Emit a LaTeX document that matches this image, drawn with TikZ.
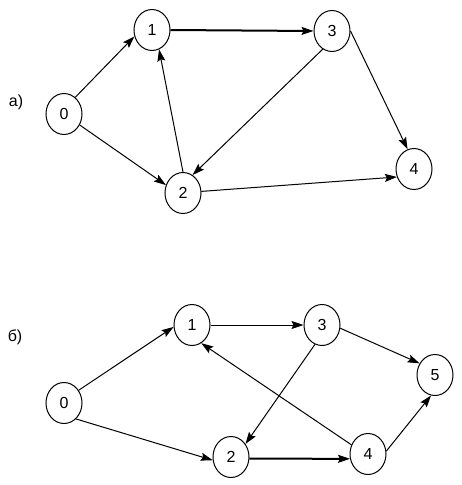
\documentclass[tikz,border=0pt]{standalone}
\usepackage{fontspec}
\setmainfont{Liberation Sans}
\usetikzlibrary{arrows.meta,shapes.geometric}
\begin{document}
\begin{tikzpicture}[x=1pt,y=-1pt,
  vert/.style={ellipse,draw,line width=1pt,minimum width=36pt,minimum height=41pt,inner sep=0pt,font=\fontsize{16}{16}\selectfont},
  lbl/.style={font=\fontsize{16}{16}\selectfont},
  edge/.style={line width=1pt,-{Stealth[length=12pt,width=8pt,inset=2pt]}},
  thick edge/.style={edge,line width=2pt,-{Stealth[length=12pt,width=8pt,inset=2pt,line width=1pt]}}]
\useasboundingbox (0,0) rectangle (462,485);
% a)
\node[lbl] (la) at (16,102) {а)};
\node[vert] (a0) at (64,114) {0};
\node[vert] (a1) at (152,30) {1};
\node[vert] (a2) at (183,193) {2};
\node[vert] (a3) at (332,31) {3};
\node[vert] (a4) at (414,169) {4};
\draw[edge] (a0.56) -- (a1.200);
\draw[edge] (a0.-35) -- (a2.155);
\draw[edge] (a2.90) -- (a1.-70);
\draw[edge] (a3.-117) -- (a2.62);
\draw[thick edge] (a1.east) -- (a3.west);
\draw[edge] (a3.east) -- (a4.108);
\draw[edge] (a2.5) -- (a4.205);
% b)
\node[lbl] (lb) at (15,337) {б)};
\node[vert] (b0) at (64,403) {0};
\node[vert] (b1) at (192,325) {1};
\node[vert] (b2) at (231,457) {2};
\node[vert] (b3) at (322,325) {3};
\node[vert] (b4) at (368,454) {4};
\node[vert] (b5) at (435,375) {5};
\draw[edge] (b0.41) -- (b1.186);
\draw[edge] (b0.-53) -- (b2.190);
\draw[edge] (b1.east) -- (b3.west);
\draw[edge] (b3.-10) -- (b5.143);
\draw[edge] (b3.-110) -- (b2.42);
\draw[edge] (b4.151) -- (b1.-63);
\draw[thick edge] (b2.-5) -- (b4.195);
\draw[edge] (b4.9) -- (b5.-101);
\end{tikzpicture}
\end{document}
